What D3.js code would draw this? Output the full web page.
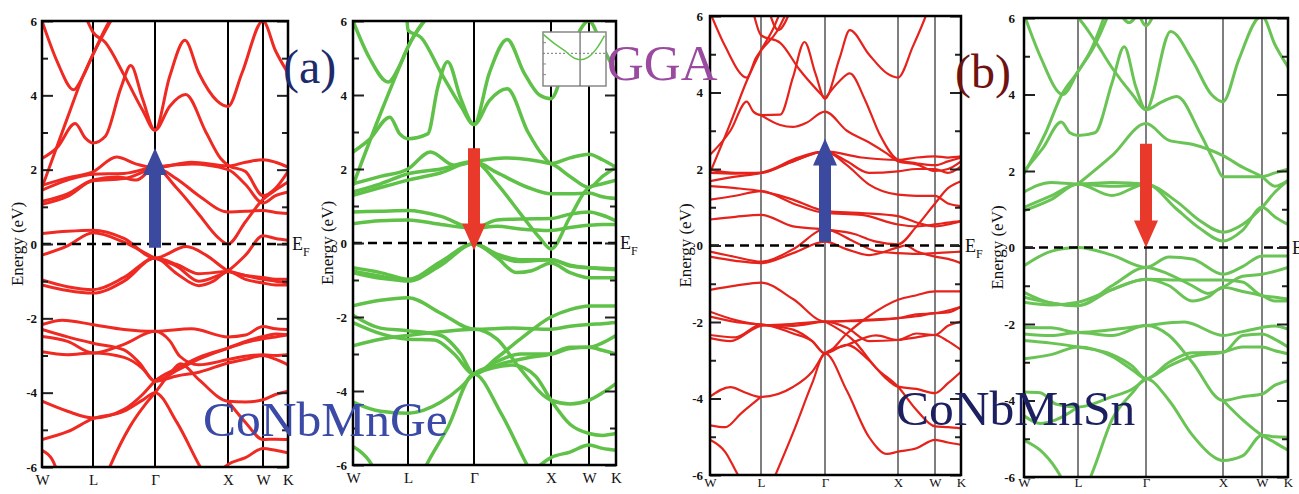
<!DOCTYPE html>
<html>
<head>
<meta charset="utf-8">
<script src="https://cdn.jsdelivr.net/npm/d3@7"></script>
<style>
  body { margin: 0; background: #fff; }
  svg { display: block; }
</style>
</head>
<body>
<div id="container"></div>
<script>
let w = 1299;
let h = 494;

// high-symmetry path: W L Γ X W K  (k in segment units)
let kLabels = ['W', 'L', 'Γ', 'X', 'W', 'K'];
let kPoints = [0, 1, 2, 3, 4, 5];
let yTicks = [6, 4, 2, 0, -2, -4, -6];
let yMinor = [5, 3, 1, -1, -3, -5];

// (a) CoNbMnGe spin up  [k, E]
let bandsGeUp = [
  [[0,6.0],[0.3,4.9],[0.62,4.15],[0.8,4.5],[1,5.1],[1.32,6.1]],
  [[0.86,6.1],[1,5.7],[1.2,5.42],[1.5,4.55],[1.8,3.6],[2,3.06],[2.2,4.5],[2.41,5.48],[2.6,4.6],[2.85,3.85],[3,3.7],[3.4,4.6],[4,6.0],[4.5,5.2],[5,4.6]],
  [[0,2.3],[0.3,2.6],[0.65,3.24],[0.85,2.85],[1,2.72],[1.2,2.9],[1.45,4.2],[1.61,4.8],[1.8,3.9],[2,3.06],[2.2,3.7],[2.42,4.02],[2.7,3.0],[2.9,2.3],[3,2.12],[3.5,1.95],[4,1.3],[4.5,1.5],[5,1.95]],
  [[0,1.52],[0.5,3.4],[0.8,4.5],[1,5.1],[1.2,5.8],[1.3,6.1]],
  [[0,1.58],[0.5,1.78],[1,1.94],[1.38,2.34],[1.7,2.15],[2,2.05],[2.5,2.2],[3,2.1],[3.5,2.2],[4,2.27],[4.5,2.2],[5,2.07]],
  [[0,1.45],[0.5,1.72],[1,1.88],[1.5,1.9],[2,2.05],[2.3,1.75],[2.6,1.3],[3,0.86],[3.5,0.88],[4,0.9],[4.5,0.85],[5,0.82]],
  [[0,1.15],[0.5,1.35],[1,1.72],[1.4,1.8],[1.7,1.72],[2,2.05],[2.3,1.5],[2.6,0.8],[2.85,0.2],[3,0.0],[3.5,0.6],[4,1.2],[4.5,1.45],[5,1.67]],
  [[0,1.07],[0.5,1.28],[1,1.7],[1.5,1.76],[2,2.05],[2.5,2.15],[3,2.0],[3.5,1.6],[4,1.1],[4.5,1.3],[5,1.4]],
  [[0,0.28],[0.5,0.34],[1,0.37],[1.5,0.15],[2,-0.38],[2.43,-0.07],[2.7,-0.3],[3,-0.72],[3.5,-0.85],[4,-0.95],[4.5,-1.0],[5,-1.05]],
  [[0,-0.3],[0.5,-0.05],[1,0.3],[1.5,0.05],[2,-0.38],[2.3,-0.6],[2.6,-1.0],[2.8,-0.9],[3,-0.72],[3.5,-0.3],[4,0.22],[4.5,0.15],[5,0.1]],
  [[0,-0.97],[0.5,-1.15],[1,-1.23],[1.5,-0.9],[2,-0.38],[2.3,-0.55],[2.6,-0.8],[3,-0.74],[3.5,-0.85],[4,-0.9],[4.5,-0.95],[5,-0.95]],
  [[0,-1.1],[0.5,-1.25],[1,-1.32],[1.5,-1.0],[2,-0.38],[2.3,-0.8],[2.6,-1.12],[2.8,-1.0],[3,-0.74],[3.5,-0.95],[4,-1.05],[4.5,-1.1],[5,-1.1]],
  [[0,-2.17],[0.4,-2.05],[1,-2.17],[1.5,-2.3],[2,-2.35],[2.5,-2.28],[3,-2.5],[3.5,-2.45],[4,-2.22],[4.5,-2.28],[5,-2.3]],
  [[0,-2.3],[0.5,-2.5],[1,-2.67],[1.5,-2.85],[1.75,-3.2],[2,-3.69],[2.3,-3.4],[2.6,-3.1],[3,-2.8],[3.5,-2.62],[4,-2.49],[4.5,-2.42],[5,-2.44]],
  [[0,-2.49],[0.5,-2.62],[1,-2.93],[1.5,-2.7],[2,-2.35],[2.2,-2.6],[2.34,-3.02],[2.6,-3.25],[3,-3.11],[3.5,-3.02],[4,-2.98],[4.5,-3.0],[5,-2.98]],
  [[0,-2.9],[0.5,-2.98],[1,-2.93],[1.5,-3.05],[1.8,-3.35],[2,-3.69],[2.3,-3.55],[2.6,-3.45],[3,-3.2],[3.5,-3.1],[4,-3.0],[4.5,-3.1],[5,-3.25]],
  [[0,-4.23],[0.5,-4.5],[1,-4.68],[1.5,-4.45],[1.8,-4.05],[2,-3.69],[2.3,-3.35],[2.6,-3.05],[3,-2.8],[3.5,-2.65],[4,-2.55],[4.5,-2.5],[5,-2.44]],
  [[0,-5.26],[0.5,-5.05],[1,-4.7],[1.5,-4.5],[1.8,-4.2],[2,-4.0],[2.3,-4.8],[2.62,-6.0],[2.8,-6.6]],
  [[1.1,-6.7],[1.27,-6.0],[1.6,-4.9],[1.85,-4.3],[2,-4.0],[2.2,-3.5],[2.35,-3.22],[2.6,-3.65],[3,-4.23],[3.5,-4.25],[4,-4.19],[4.5,-4.05],[5,-3.96]],
  [[2.7,-6.5],[3,-5.93],[3.5,-5.75],[4,-5.5],[4.5,-5.55],[5,-5.62]],
  [[3,-4.23],[3.5,-4.8],[4,-5.26],[4.5,-5.25],[5,-5.26]],
  [[0,-5.55],[0.2,-5.8],[0.35,-6.3]]
];

// (a) CoNbMnGe spin down
let bandsGeDn = [
  [[0,6.0],[0.3,5.0],[0.64,4.35],[0.85,4.8],[1,5.3],[1.29,6.1]],
  [[0.98,6.1],[1,5.75],[1.2,5.55],[1.5,4.6],[1.8,3.7],[2,3.2],[2.2,4.6],[2.43,5.5],[2.65,4.6],[2.85,4.0],[3,3.9],[3.4,4.9],[4,6.0],[4.5,5.3],[5,4.6]],
  [[0,2.46],[0.3,2.8],[0.67,3.4],[0.85,2.95],[1,2.82],[1.3,2.95],[1.45,4.2],[1.6,4.9],[1.8,3.9],[2,3.2],[2.2,3.85],[2.43,4.17],[2.7,3.0],[2.9,2.35],[3,2.15],[3.5,2.3],[4,2.4],[4.5,2.25],[5,2.05]],
  [[0,1.56],[0.5,3.5],[0.8,4.6],[1,5.3],[1.2,5.9],[1.3,6.1]],
  [[0,1.6],[0.5,1.8],[1,2.0],[1.34,2.46],[1.7,2.1],[2,2.2],[2.4,2.3],[3,2.14],[3.5,1.8],[4,1.5],[4.5,1.8],[5,2.05]],
  [[0,1.38],[0.5,1.6],[1,1.87],[1.5,2.0],[2,2.2],[2.3,1.9],[2.7,1.5],[3,1.33],[3.5,1.33],[4,1.35],[4.5,1.25],[5,1.2]],
  [[0,1.29],[0.5,1.5],[1,1.7],[1.5,1.9],[2,2.2],[2.3,1.6],[2.6,0.8],[2.85,0.15],[3,-0.16],[3.5,0.7],[4,1.5],[4.5,1.6],[5,1.7]],
  [[0,0.84],[0.5,0.86],[1,0.88],[1.5,0.72],[2,0.4],[2.3,0.62],[2.6,0.65],[3,0.66],[3.5,0.78],[4,0.84],[4.5,0.75],[5,0.6]],
  [[0,0.52],[0.5,0.6],[1,0.62],[1.5,0.5],[2,0.4],[2.3,0.45],[2.6,0.38],[3,0.34],[3.5,0.42],[4,0.48],[4.5,0.5],[5,0.5]],
  [[0,-0.67],[0.5,-0.8],[1,-0.98],[1.5,-0.5],[2,-0.02],[2.3,-0.35],[2.6,-0.5],[3,-0.45],[3.5,-0.6],[4,-0.67],[4.5,-0.7],[5,-0.72]],
  [[0,-0.76],[0.5,-0.9],[1,-1.03],[1.5,-0.6],[2,-0.02],[2.3,-0.4],[2.55,-0.8],[2.75,-0.75],[3,-0.54],[3.5,-0.8],[4,-0.94],[4.5,-0.94],[5,-0.94]],
  [[0,-0.8],[0.5,-0.95],[1,-1.0],[1.5,-0.55],[2,-0.02],[2.3,-0.3],[2.6,-0.45],[3,-0.45],[3.5,-0.62],[4,-0.67],[4.5,-0.68],[5,-0.7]],
  [[0,-1.7],[0.5,-1.55],[1,-1.48],[1.5,-1.9],[2,-2.33],[2.5,-2.3],[3,-2.33],[3.5,-2.25],[4,-2.2],[4.5,-2.18],[5,-2.15]],
  [[0,-1.95],[0.5,-2.3],[1,-2.37],[1.5,-2.5],[1.8,-3.0],[2,-3.54],[2.3,-3.1],[2.6,-2.6],[3,-2.0],[3.5,-1.8],[4,-1.7],[4.5,-1.7],[5,-1.7]],
  [[0,-2.15],[0.5,-2.45],[1,-2.6],[1.4,-2.62],[1.7,-3.0],[2,-3.54],[2.3,-3.2],[2.6,-3.0],[3,-3.0],[3.5,-2.85],[4,-2.82],[4.5,-2.9],[5,-3.0]],
  [[0,-2.78],[0.5,-2.6],[1,-2.5],[1.5,-2.4],[2,-2.33],[2.3,-2.6],[2.6,-3.4],[3,-4.25],[3.5,-4.35],[4,-4.25],[4.5,-4.05],[5,-3.8]],
  [[1.1,-6.7],[1.28,-6.0],[1.6,-5.0],[2,-3.54],[2.35,-4.6],[2.69,-6.0],[2.85,-6.6]],
  [[0,-4.3],[0.5,-4.55],[1,-4.6],[1.5,-4.3],[1.8,-3.9],[2,-3.54],[2.3,-3.3],[2.7,-3.1],[3,-3.0],[3.5,-2.82],[4,-2.82],[4.5,-2.7],[5,-2.5]],
  [[0,-5.5],[0.3,-5.9],[0.45,-6.3]],
  [[2,-3.54],[2.5,-3.3],[2.8,-3.6],[3,-4.25],[3.5,-4.9],[4,-5.15],[4.5,-5.2],[5,-5.15]],
  [[2.7,-6.3],[3,-5.8],[3.5,-5.65],[4,-5.46],[4.5,-5.55],[5,-5.6]]
];

// (b) CoNbMnSn spin up
let bandsSnUp = [
  [[0,6.1],[0.3,5.2],[0.72,4.39],[0.9,4.9],[1,5.1],[1.25,5.6],[1.4,6.1]],
  [[0.85,6.1],[1,5.5],[1.3,5.3],[1.6,4.6],[2,3.84]],
  [[1.13,6.1],[1.27,5.63],[1.45,6.1]],
  [[0,2.37],[0.4,3.0],[0.72,3.76],[0.85,3.5],[1,3.41],[1.3,3.42],[1.5,4.4],[1.68,5.32],[1.85,4.5],[2,3.84],[2.2,4.9],[2.34,5.63],[2.6,5.0],[2.85,4.5],[3,4.39],[3.4,5.2],[3.75,6.0],[3.9,6.4]],
  [[0,1.9],[0.4,3.2],[0.72,4.3],[1,5.1],[1.2,5.7],[1.3,6.1]],
  [[1,3.41],[1.3,3.15],[1.5,3.1],[1.7,3.2],[2,3.5],[2.3,3.0],[2.6,2.7],[2.85,2.4],[3,2.2],[3.5,2.12],[4,1.95],[4.5,2.0],[5,2.2]],
  [[2,3.84],[2.2,4.3],[2.34,4.5],[2.55,3.8],[2.75,2.9],[3,2.24],[3.5,2.15],[4,2.1],[4.5,2.2],[5,2.3]],
  [[0,1.98],[0.5,1.9],[1,1.9],[1.5,2.25],[2,2.46],[2.5,2.3],[3,2.24],[3.5,2.3],[4,2.33],[4.5,2.3],[5,2.33]],
  [[0,1.9],[0.5,1.88],[1,1.9],[1.5,2.2],[2,2.46],[2.3,2.2],[2.6,1.9],[3,1.94],[3.5,2.0],[4,2.0],[4.5,1.9],[5,2.07]],
  [[0,1.68],[0.5,1.8],[1,1.9],[1.5,2.2],[2,2.46],[2.3,2.1],[2.6,1.6],[3,1.33],[3.5,1.3],[4,1.3],[4.5,1.1],[5,1.03]],
  [[0,1.55],[0.5,1.5],[1,1.42],[1.5,1.2],[1.8,1.0],[2,0.9],[2.5,0.85],[3,0.77],[3.5,0.6],[4,0.5],[4.5,0.55],[5,0.64]],
  [[0,1.2],[0.5,1.3],[1,1.42],[1.5,1.1],[2,0.85],[2.5,0.8],[3,0.55],[3.5,0.5],[4,0.55],[4.5,0.6],[5,0.64]],
  [[0,0.68],[0.5,0.75],[1,0.8],[1.5,0.5],[2,0.42],[2.4,0.3],[2.7,0.1],[3,0.03],[3.5,0.5],[4,1.1],[4.5,1.5],[5,1.68]],
  [[0,-0.16],[0.5,-0.3],[1,-0.42],[1.5,-0.1],[2,0.42],[2.4,0.1],[2.7,-0.15],[3,-0.2],[3.5,-0.22],[4,-0.2],[4.5,-0.18],[5,-0.16]],
  [[0,-0.29],[0.5,-0.4],[1,-0.46],[1.5,-0.2],[2,0.1],[2.3,-0.1],[2.6,-0.25],[3,-0.05],[3.2,0.0],[3.5,-0.15],[4,-0.29],[4.5,-0.35],[5,-0.46]],
  [[0,-1.16],[0.5,-1.05],[1,-0.97],[1.5,-1.4],[2,-1.99],[2.5,-1.95],[3,-1.9],[3.5,-1.85],[4,-1.77],[4.5,-1.75],[5,-1.6]],
  [[0,-1.73],[0.5,-1.95],[1,-2.07],[1.5,-2.1],[2,-1.99],[2.5,-1.97],[3,-1.9],[3.5,-1.8],[4,-1.77],[4.5,-1.7],[5,-1.6]],
  [[0,-1.86],[0.5,-2.0],[1,-2.07],[1.5,-2.2],[1.8,-2.5],[2,-2.82],[2.3,-2.3],[2.6,-1.85],[3,-1.42],[3.5,-1.3],[4,-1.2],[4.5,-1.2],[5,-1.2]],
  [[0,-2.34],[0.5,-2.4],[1,-2.07],[1.5,-2.3],[1.8,-2.5],[2,-2.82],[2.3,-2.6],[2.6,-3.0],[2.85,-3.5],[3,-3.69],[3.5,-3.75],[4,-3.86],[4.5,-3.6],[5,-3.3]],
  [[0,-2.42],[0.4,-2.5],[1,-2.1],[1.5,-2.05],[2,-1.99],[2.3,-2.15],[2.6,-2.5],[3,-2.47],[3.5,-2.4],[4,-2.34],[4.5,-2.5],[5,-2.73]],
  [[1.2,-6.1],[1.5,-4.9],[1.8,-3.6],[2,-2.82],[2.3,-3.8],[2.6,-5.0],[2.85,-5.45],[3,-5.39],[3.5,-5.3],[4,-5.08],[4.5,-5.15],[5,-5.21]],
  [[0,-3.95],[0.4,-3.7],[0.7,-3.85],[1,-3.96],[1.5,-3.7],[1.8,-3.3],[2,-2.82],[2.3,-2.6],[2.7,-2.35],[3,-2.47],[3.5,-2.3],[4,-2.34],[4.5,-2.1],[5,-1.99]],
  [[0,-4.7],[0.3,-4.75],[0.6,-4.4],[1,-3.96]],
  [[0,-5.08],[0.3,-5.4],[0.55,-6.0],[0.7,-6.3]],
  [[2,-1.99],[2.4,-2.5],[2.7,-3.2],[3,-3.69],[3.5,-4.3],[4,-4.73],[4.5,-4.75],[5,-4.78]]
];

// (b) CoNbMnSn spin down
let bandsSnDn = [
  [[0,6.1],[0.3,5.0],[0.72,4.0],[1,4.6],[1.25,5.3],[1.45,6.1]],
  [[0.9,6.1],[1,6.0],[1.25,5.4],[1.5,4.7],[1.8,4.0],[2,3.6],[2.32,5.65],[2.6,4.9],[2.85,4.0],[3,3.81],[3.4,4.9],[3.9,6.0],[4,6.05],[4.5,5.3],[5,4.72]],
  [[0,2.0],[0.35,2.6],[0.69,3.28],[0.85,3.0],[1,2.93],[1.25,3.0],[1.5,4.3],[1.68,5.25],[1.85,4.2],[2,3.6],[2.2,3.8],[2.4,3.95],[2.7,3.0],[2.9,2.2],[3,1.85],[3.5,1.85],[4,1.85],[4.5,1.95],[5,2.05]],
  [[0,1.93],[0.4,3.0],[0.7,4.0],[1,4.6],[1.2,5.2],[1.4,6.1]],
  [[1.6,6.2],[1.75,5.88],[1.9,6.2]],
  [[1.88,6.2],[2,5.8],[2.12,6.2]],
  [[1,1.66],[1.5,2.4],[2,3.24],[2.3,2.8],[2.6,2.7],[3,2.4],[3.5,2.1],[4,1.85],[4.5,1.6],[5,1.75]],
  [[0,1.45],[0.5,1.7],[1,1.66],[1.5,1.7],[2,1.66],[2.4,1.2],[2.7,0.7],[3,0.4],[3.5,0.6],[4,1.05],[4.5,1.45],[5,1.75]],
  [[0,1.05],[0.5,1.35],[1,1.66],[1.5,1.36],[2,1.66],[2.4,1.0],[2.7,0.5],[3,0.17],[3.5,0.45],[4,1.05],[4.5,0.8],[5,0.6]],
  [[0,0.96],[0.5,1.25],[1,1.66],[1.5,1.6],[2,1.66]],
  [[0,-0.48],[0.5,-0.1],[1,0.0],[1.5,-0.2],[2,-0.52],[2.3,-0.25],[2.6,-0.3],[3,-0.7],[3.5,-0.5],[4,-0.22],[4.5,-0.22],[5,-0.22]],
  [[0,-1.17],[0.5,-1.45],[1,-1.52],[1.5,-1.0],[2,-0.52],[2.3,-0.7],[2.6,-1.0],[2.8,-1.2],[3,-1.04],[3.5,-0.75],[4,-0.7],[4.5,-0.62],[5,-0.52]],
  [[0,-1.43],[0.5,-1.5],[1,-1.43],[1.5,-1.1],[2,-0.83],[2.5,-0.85],[3,-0.85],[3.5,-0.9],[4,-1.26],[4.5,-1.3],[5,-1.35]],
  [[0,-1.3],[0.5,-1.45],[1,-1.52],[1.5,-1.1],[2,-0.83],[2.3,-1.0],[2.6,-1.4],[2.8,-1.3],[3,-1.04],[3.5,-1.15],[4,-1.26],[4.5,-1.4],[5,-1.39]],
  [[0,-2.09],[0.5,-2.1],[1,-2.22],[1.5,-2.15],[2,-2.04],[2.5,-1.95],[3,-2.3],[3.5,-2.2],[4,-2.09],[4.5,-2.05],[5,-2.13]],
  [[0,-2.26],[0.5,-2.3],[1,-2.22],[1.5,-2.3],[2,-2.04],[2.3,-2.3],[2.6,-3.0],[3,-4.0],[3.5,-3.9],[4,-3.83],[4.5,-3.6],[5,-3.48]],
  [[0,-2.43],[0.5,-2.5],[1,-2.6],[1.5,-2.8],[1.8,-3.1],[2,-3.43],[2.3,-3.1],[2.6,-2.85],[3,-2.74],[3.5,-2.6],[4,-2.6],[4.5,-2.7],[5,-2.78]],
  [[0,-2.91],[0.5,-2.8],[1,-2.6],[1.5,-2.85],[1.8,-3.2],[2,-3.43],[2.3,-3.0],[2.6,-2.75],[3,-2.74],[3.5,-2.3],[4,-2.26],[4.5,-2.4],[5,-2.6]],
  [[1.1,-6.4],[1.25,-5.7],[1.5,-4.5],[1.8,-3.8],[2,-3.43],[2.3,-4.0],[2.6,-4.9],[2.9,-5.5],[3,-5.57],[3.5,-5.45],[4,-4.91],[4.5,-4.95],[5,-4.96]],
  [[0,-3.78],[0.3,-3.8],[0.6,-4.1],[1,-4.17],[1.5,-3.9],[1.8,-3.7],[2,-3.43]],
  [[0,-5.04],[0.3,-5.3],[0.6,-5.8],[0.8,-6.3]],
  [[0,-4.4],[0.3,-4.6],[0.6,-4.5],[1,-4.17]],
  [[3,-4.0],[3.5,-4.5],[4,-4.91],[4.5,-5.1],[5,-5.3]]
];

// inset (GGA zoom at the band edge)
let insetBand = [[-1,0.27],[-0.7,0.14],[-0.4,0.03],[-0.15,-0.07],[0,-0.09],[0.2,-0.06],[0.45,0.07],[0.66,0.25]];

// spin arrows: [tail E, tip E]
let arrowEnds = [[-0.1, 2.58], [2.56, -0.2], [0.1, 2.8], [2.71, 0.0]];

let serif = '"Liberation Serif", "Times New Roman", serif';

let panels = [
  {bands: bandsGeUp, color: '#ee2a23', lw: 3, kx: [42,93,155,228,263,288], top: 21, bottom: 467,
   gridColor: '#000', gridW: 2, labPad: 7, labSize: 15, tickPad: 5, yTitleX: 17, arrowColor: '#3b4a9e'},
  {bands: bandsGeDn, color: '#5fc148', lw: 3.5, kx: [353,408,474,551,589,616], top: 21, bottom: 465,
   gridColor: '#000', gridW: 2, labPad: 7, labSize: 15, tickPad: 6, yTitleX: 327, arrowColor: '#e8392b'},
  {bands: bandsSnUp, color: '#e5221b', lw: 2.2, kx: [710,761,825,898,935,961], top: 16, bottom: 475,
   gridColor: '#3a3a3a', gridW: 1.3, labPad: 3, labSize: 13, tickPad: 7, yTitleX: 685, arrowColor: '#3b4a9e'},
  {bands: bandsSnDn, color: '#6ac455', lw: 3, kx: [1024,1078,1146,1223,1262,1288], top: 18, bottom: 477,
   gridColor: '#3a3a3a', gridW: 1.3, labPad: 1, labSize: 13, tickPad: 9, yTitleX: 997, arrowColor: '#e8392b'}
];

let viz = d3.select('#container')
  .append('svg')
    .attr('width', w)
    .attr('height', h)
    .style('background-color', '#fff');

let defs = viz.append('defs');

function drawPanel(p, i){
  let x = d3.scaleLinear().domain(kPoints).range(p.kx);
  let y = d3.scaleLinear().domain([-6, 6]).range([p.bottom, p.top]);
  let x0 = p.kx[0], x1 = p.kx[5];
  let g = viz.append('g');

  defs.append('clipPath').attr('id', 'clip' + i)
    .append('rect').attr('x', x0).attr('y', p.top).attr('width', x1 - x0).attr('height', p.bottom - p.top);

  // symmetry lines
  g.selectAll('.kline').data(kPoints.slice(1, 5)).join('line')
    .attr('x1', d => x(d)).attr('x2', d => x(d))
    .attr('y1', p.top).attr('y2', p.bottom)
    .attr('stroke', p.gridColor).attr('stroke-width', p.gridW);

  // bands
  let line = d3.line().x(d => x(d[0])).y(d => y(d[1])).curve(d3.curveMonotoneX);
  g.append('g').attr('clip-path', 'url(#clip' + i + ')')
    .selectAll('path').data(p.bands).join('path')
      .attr('d', line)
      .attr('fill', 'none')
      .attr('stroke', p.color)
      .attr('stroke-width', p.lw)
      .attr('stroke-linejoin', 'round');

  // Fermi level
  g.append('line')
    .attr('x1', x0).attr('x2', x1).attr('y1', y(0)).attr('y2', y(0))
    .attr('stroke', '#000').attr('stroke-width', 2.5).attr('stroke-dasharray', '9,6');

  // ticks
  let left = g.append('g').attr('transform', 'translate(' + x0 + ',0)')
    .call(d3.axisLeft(y).tickValues(yTicks).tickSize(-11).tickPadding(p.tickPad).tickFormat(d => String(d)));
  let leftMinor = g.append('g').attr('transform', 'translate(' + x0 + ',0)')
    .call(d3.axisLeft(y).tickValues(yMinor).tickSize(-6).tickFormat(''));
  let right = g.append('g').attr('transform', 'translate(' + x1 + ',0)')
    .call(d3.axisRight(y).tickValues(yTicks).tickSize(-11).tickFormat(''));
  let rightMinor = g.append('g').attr('transform', 'translate(' + x1 + ',0)')
    .call(d3.axisRight(y).tickValues(yMinor).tickSize(-6).tickFormat(''));
  [left, leftMinor, right, rightMinor].forEach(a => {
    a.select('.domain').remove();
    a.selectAll('line').attr('stroke', '#222').attr('stroke-width', 2);
  });
  left.selectAll('text')
    .attr('font-family', serif).attr('font-size', 13).attr('font-weight', 'bold').attr('fill', '#111');

  // k labels
  let bottom = g.append('g').attr('transform', 'translate(0,' + p.bottom + ')')
    .call(d3.axisBottom(x).tickValues(kPoints).tickSize(0).tickPadding(p.labPad).tickFormat((d, j) => kLabels[j]));
  bottom.select('.domain').remove();
  bottom.selectAll('text').attr('font-family', serif).attr('font-size', p.labSize).attr('fill', '#111');

  // frame
  g.append('rect')
    .attr('x', x0).attr('y', p.top).attr('width', x1 - x0).attr('height', p.bottom - p.top)
    .attr('fill', 'none').attr('stroke', '#000').attr('stroke-width', 2.5);

  // axis title
  g.append('text')
    .attr('transform', 'translate(' + p.yTitleX + ',' + y(0) + ') rotate(-90)')
    .attr('text-anchor', 'middle').attr('dy', '0.35em')
    .attr('font-family', serif).attr('font-size', 17).attr('fill', '#111')
    .text('Energy (eV)');

  // E_F label
  let ef = g.append('text')
    .attr('x', x1 + 4).attr('y', y(0) + 6)
    .attr('font-family', serif).attr('font-size', 18).attr('fill', '#111');
  ef.append('tspan').text('E');
  ef.append('tspan').attr('font-size', 12).attr('dy', 6).text('F');

  // spin arrow
  let a = arrowEnds[i];
  let xc = x(2), yt = y(a[0]), yh = y(a[1]);
  let dir = yh < yt ? -1 : 1;
  let sw = 12, hw = 24, hl = 27;
  let pts = [[xc - sw/2, yt], [xc - sw/2, yh - dir*hl], [xc - hw/2, yh - dir*hl], [xc, yh],
             [xc + hw/2, yh - dir*hl], [xc + sw/2, yh - dir*hl], [xc + sw/2, yt]];
  g.append('path').attr('d', d3.line()(pts) + 'Z').attr('fill', p.arrowColor);
}

panels.forEach(drawPanel);

// inset in panel (a) spin down
let ix = d3.scaleLinear().domain([-1, 0.7]).range([543, 606]);
let iy = d3.scaleLinear().domain([-0.46, 0.30]).range([86, 32]);
let inset = viz.append('g');
inset.append('rect').attr('x', 543).attr('y', 32).attr('width', 63).attr('height', 54)
  .attr('fill', '#fff').attr('stroke', '#888').attr('stroke-width', 1.5);
inset.append('line').attr('x1', ix(0)).attr('x2', ix(0)).attr('y1', 32).attr('y2', 86)
  .attr('stroke', '#666').attr('stroke-width', 1.2);
inset.append('line').attr('x1', 543).attr('x2', 606).attr('y1', iy(0)).attr('y2', iy(0))
  .attr('stroke', '#777').attr('stroke-width', 1).attr('stroke-dasharray', '2,2');
inset.selectAll('.itick').data([-0.3, -0.15, 0.15]).join('line')
  .attr('x1', 543).attr('x2', 546).attr('y1', d => iy(d)).attr('y2', d => iy(d))
  .attr('stroke', '#888');
inset.append('path').datum(insetBand)
  .attr('d', d3.line().x(d => ix(d[0])).y(d => iy(d[1])).curve(d3.curveMonotoneX))
  .attr('fill', 'none').attr('stroke', '#5fc148').attr('stroke-width', 1.5);

// overlay labels
let notes = [
  {t: '(a)', x: 283, y: 83, s: 48, c: '#1f2a6b'},
  {t: 'GGA', x: 607, y: 80, s: 51, c: '#9a4b9f'},
  {t: '(b)', x: 955, y: 88, s: 48, c: '#6e1212'},
  {t: 'CoNbMnGe', x: 203, y: 436, s: 49.5, c: '#3a4aa6'},
  {t: 'CoNbMnSn', x: 896, y: 425, s: 49.5, c: '#1c2060'}
];
viz.selectAll('.note').data(notes).join('text')
  .attr('x', d => d.x).attr('y', d => d.y)
  .attr('font-family', serif).attr('font-size', d => d.s).attr('fill', d => d.c)
  .text(d => d.t);
</script>
</body>
</html>
